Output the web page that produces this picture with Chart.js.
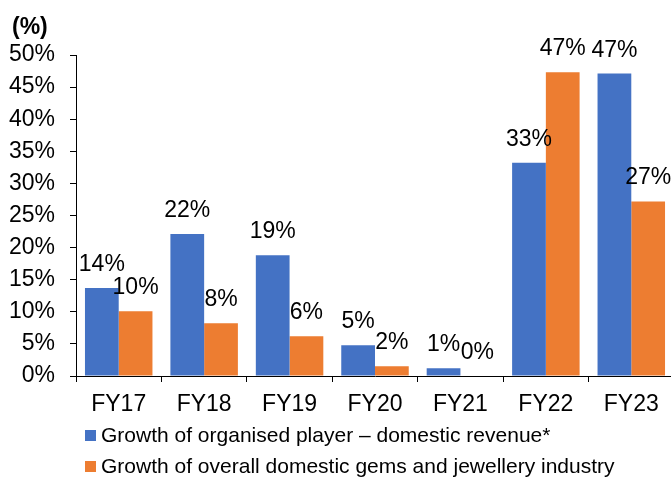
<!DOCTYPE html>
<html>
<head>
<meta charset="utf-8">
<script src="https://cdn.jsdelivr.net/npm/chart.js@4"></script>
<style>
  html, body { margin: 0; padding: 0; background: #fff; overflow: hidden; }
  #wrap { width: 674px; height: 480px; position: relative; }
</style>
</head>
<body>
<div id="wrap"><canvas id="c"></canvas></div>
<script>
const categories = ['FY17', 'FY18', 'FY19', 'FY20', 'FY21', 'FY22', 'FY23'];
const organisedGrowth = [13.7, 22.1, 18.8, 4.8, 1.2, 33.2, 47.1];
const industryGrowth = [10.1, 8.2, 6.2, 1.5, 0, 47.3, 27.2];
const seriesNames = [
  'Growth of organised player \u2013 domestic revenue*',
  'Growth of overall domestic gems and jewellery industry'
];
const yUnitLabel = '(%)';

const FONT = '"Liberation Sans", Arial, sans-serif';
const BLUE = '#4472C4';
const ORANGE = '#ED7D31';

const extrasPlugin = {
  id: 'extras',
  afterDatasetsDraw(chart) {
    const ctx = chart.ctx;
    ctx.save();
    ctx.fillStyle = '#000';
    ctx.font = '23px ' + FONT;
    ctx.textAlign = 'center';
    ctx.textBaseline = 'alphabetic';
    chart.data.datasets.forEach((ds, i) => {
      const meta = chart.getDatasetMeta(i);
      meta.data.forEach((el, j) => {
        const v = ds.data[j];
        ctx.fillText(Math.round(v) + '%', el.x, el.y - 17);
      });
    });
    ctx.restore();
  },
  afterDraw(chart) {
    const ctx = chart.ctx;
    ctx.save();
    ctx.fillStyle = '#000';
    ctx.font = 'bold 23px ' + FONT;
    ctx.textAlign = 'left';
    ctx.textBaseline = 'middle';
    ctx.fillText(yUnitLabel, 12, 28);
    ctx.font = '21px ' + FONT;
    chart.data.datasets.forEach((ds, i) => {
      const cy = 436 + i * 31;
      ctx.fillStyle = ds.backgroundColor;
      ctx.fillRect(85, cy - 6, 11, 11);
      ctx.fillStyle = '#000';
      ctx.fillText(ds.label, 101, cy);
    });
    ctx.restore();
  }
};

new Chart(document.getElementById('c'), {
  type: 'bar',
  data: {
    labels: categories,
    datasets: [
      { label: seriesNames[0], data: organisedGrowth, backgroundColor: BLUE },
      { label: seriesNames[1], data: industryGrowth, backgroundColor: ORANGE }
    ]
  },
  options: {
    responsive: true,
    maintainAspectRatio: false,
    animation: false,
    layout: { padding: { top: 55, left: 0, right: 0, bottom: 54 } },
    datasets: { bar: { categoryPercentage: 0.79, barPercentage: 1.0 } },
    plugins: {
      legend: { display: false },
      tooltip: { enabled: false }
    },
    scales: {
      x: {
        grid: { drawOnChartArea: false, tickLength: 6, color: '#000', offset: true },
        border: { color: '#000', width: 1 },
        ticks: { color: '#000', font: { family: FONT, size: 23 }, padding: 9, maxRotation: 0 },
        afterFit(s) { s.height = 50; }
      },
      y: {
        min: 0, max: 50,
        grid: { drawOnChartArea: false, tickLength: 6, color: '#000' },
        border: { color: '#000', width: 1 },
        ticks: {
          stepSize: 5, color: '#000', padding: 15,
          font: { family: FONT, size: 23 },
          callback: v => v + '%'
        },
        afterFit(s) { s.width = 76; }
      }
    }
  },
  plugins: [extrasPlugin]
});
</script>
</body>
</html>
